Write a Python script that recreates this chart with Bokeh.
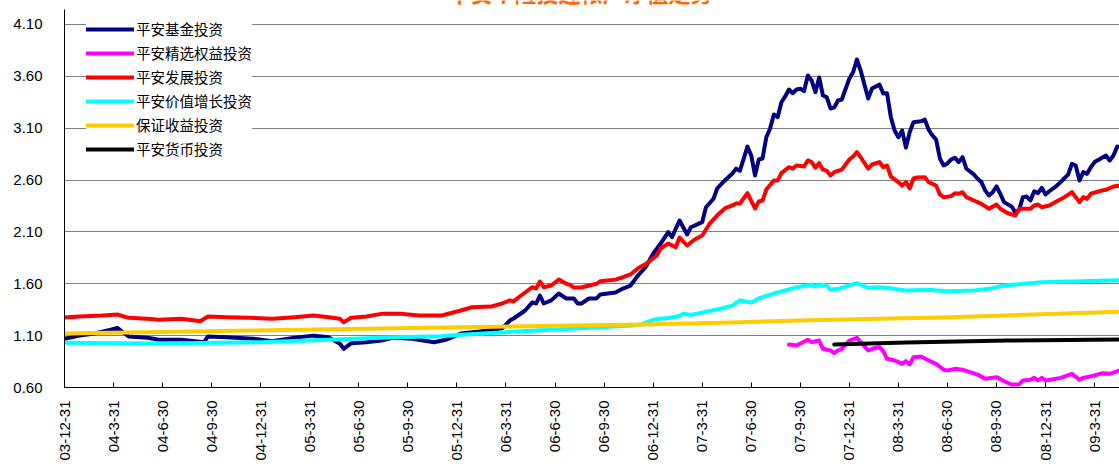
import math
from bokeh.plotting import figure
from bokeh.models import Range1d, FixedTicker, NumeralTickFormatter, Legend, LegendItem, Label
from bokeh.embed import file_html
from bokeh.resources import INLINE

TITLE = "平安个险投连帐户净值走势"

# x axis: weekly categories, a tick label every 13 weeks (quarter ends)
X_TICK_WEEKS = [0, 13, 26, 39, 52, 65, 78, 91, 104, 117, 130, 143, 156, 169, 182,
                195, 208, 221, 234, 247, 260, 273]
X_TICK_LABELS = ["03-12-31", "04-3-31", "04-6-30", "04-9-30", "04-12-31", "05-3-31",
                 "05-6-30", "05-9-30", "05-12-31", "06-3-31", "06-6-30", "06-9-30",
                 "06-12-31", "07-3-31", "07-6-30", "07-9-30", "07-12-31", "08-3-31",
                 "08-6-30", "08-9-30", "08-12-31", "09-3-31"]
Y_TICKS = [0.60, 1.10, 1.60, 2.10, 2.60, 3.10, 3.60, 4.10]

# 平安基金投资
FUND_WEEK = [0, 4, 8, 12, 14, 17, 22, 25, 31, 37, 38, 43, 50, 55, 61, 66, 70, 73, 74, 76,
             80, 84, 87, 92, 98, 101, 105, 110, 116, 118, 119, 122, 124, 125, 126, 127, 129,
             131, 133, 135, 136, 137, 139, 141, 142, 146, 148, 150, 152, 154, 156, 158, 160,
             161, 163, 165, 166, 169, 170, 172, 173, 175, 177, 178, 179, 181, 182, 183, 184,
             185, 186, 187, 188, 189, 190, 191, 192, 193, 194, 195, 196, 197, 198, 199, 200,
             201, 202, 203, 204, 205, 206, 208, 209, 210, 211, 213, 214, 216, 217, 218, 219,
             220, 221, 222, 223, 224, 225, 227, 228, 229, 230, 231, 232, 233, 234, 235, 236,
             237, 238, 239, 241, 242, 243, 244, 245, 246, 247, 248, 249, 251, 252, 253, 254,
             255, 256, 257, 258, 259, 260, 261, 263, 264, 266, 267, 268, 269, 270, 271, 272,
             273, 275, 276, 277, 278, 279, 280]
FUND_NAV = [1.07, 1.10, 1.12, 1.156, 1.175, 1.092, 1.079, 1.06, 1.06, 1.037, 1.092, 1.085,
            1.07, 1.046, 1.079, 1.10, 1.085, 1.021, 0.973, 1.027, 1.037, 1.053, 1.079, 1.07,
            1.037, 1.06, 1.12, 1.14, 1.17, 1.245, 1.265, 1.34, 1.42, 1.41, 1.487, 1.41, 1.44,
            1.506, 1.458, 1.458, 1.41, 1.41, 1.458, 1.458, 1.497, 1.516, 1.554, 1.583, 1.68,
            1.76, 1.89, 1.988, 2.097, 2.05, 2.21, 2.075, 2.145, 2.194, 2.338, 2.42, 2.52,
            2.596, 2.663, 2.71, 2.69, 2.923, 2.837, 2.644, 2.798, 2.808, 3.013, 3.097, 3.232,
            3.206, 3.35, 3.406, 3.473, 3.437, 3.473, 3.48, 3.457, 3.608, 3.56, 3.447, 3.589,
            3.415, 3.40, 3.29, 3.30, 3.367, 3.377, 3.579, 3.64, 3.762, 3.656, 3.386, 3.482,
            3.52, 3.434, 3.437, 3.206, 3.077, 3.013, 3.077, 2.914, 3.061, 3.158, 3.167, 3.183,
            3.087, 3.03, 2.99, 2.808, 2.74, 2.76, 2.80, 2.815, 2.773, 2.82, 2.709, 2.654,
            2.612, 2.58, 2.50, 2.451, 2.483, 2.538, 2.468, 2.387, 2.345, 2.29, 2.313, 2.435,
            2.441, 2.403, 2.492, 2.473, 2.525, 2.461, 2.492, 2.547, 2.58, 2.654, 2.757, 2.74,
            2.596, 2.676, 2.66, 2.724, 2.773, 2.815, 2.837, 2.789, 2.837, 2.924, 2.917]

# 平安精选权益投资
EQUITY_WEEK = [192, 194, 197, 198, 200, 201, 203, 204, 205, 206, 208, 210, 211, 213, 214, 216,
               217, 218, 220, 221, 222, 223, 224, 225, 227, 229, 231, 233, 234, 236, 238, 240,
               242, 244, 247, 249, 251, 253, 254, 256, 257, 258, 259, 260, 264, 267, 269, 270,
               273, 275, 277, 280]
EQUITY_NAV = [1.015, 1.005, 1.06, 1.037, 1.053, 0.973, 0.957, 0.931, 0.957, 0.973, 1.053,
              1.079, 1.037, 0.957, 0.973, 0.989, 0.95, 0.877, 0.86, 0.844, 0.828, 0.854, 0.822,
              0.892, 0.899, 0.86, 0.828, 0.771, 0.764, 0.78, 0.771, 0.748, 0.725, 0.684, 0.70,
              0.66, 0.629, 0.629, 0.668, 0.674, 0.693, 0.668, 0.693, 0.668, 0.693, 0.732,
              0.674, 0.693, 0.716, 0.738, 0.732, 0.77]

# 平安发展投资
GROWTH_WEEK = [0, 4, 10, 14, 17, 22, 25, 31, 36, 38, 43, 49, 55, 61, 66, 70, 73, 74, 76, 80,
               84, 89, 94, 100, 105, 108, 113, 116, 118, 119, 121, 124, 125, 126, 127, 129, 131,
               133, 134, 135, 137, 139, 141, 142, 146, 148, 150, 152, 154, 157, 158, 160, 162,
               163, 165, 167, 169, 171, 173, 175, 177, 178, 179, 181, 182, 183, 184, 185, 186,
               188, 189, 190, 192, 193, 194, 196, 197, 198, 199, 200, 201, 202, 203, 204, 206,
               208, 209, 210, 211, 213, 214, 216, 217, 218, 219, 221, 222, 223, 224, 225, 226,
               228, 229, 231, 232, 233, 235, 236, 237, 238, 239, 241, 243, 245, 247, 248, 250,
               252, 253, 256, 257, 258, 259, 261, 263, 265, 267, 269, 270, 271, 272, 275, 276,
               278, 280]
GROWTH_NAV = [1.275, 1.284, 1.294, 1.304, 1.272, 1.262, 1.253, 1.262, 1.239, 1.284, 1.278,
              1.272, 1.262, 1.278, 1.294, 1.278, 1.262, 1.23, 1.272, 1.284, 1.31, 1.31, 1.294,
              1.294, 1.342, 1.374, 1.38, 1.41, 1.44, 1.43, 1.487, 1.567, 1.554, 1.622, 1.567,
              1.583, 1.64, 1.60, 1.59, 1.564, 1.564, 1.583, 1.60, 1.625, 1.64, 1.663, 1.69, 1.75,
              1.79, 1.873, 1.94, 1.988, 1.953, 2.046, 1.969, 2.027, 2.065, 2.18, 2.26, 2.326,
              2.355, 2.374, 2.374, 2.473, 2.40, 2.326, 2.393, 2.403, 2.508, 2.596, 2.596, 2.667,
              2.724, 2.71, 2.74, 2.73, 2.789, 2.773, 2.72, 2.763, 2.70, 2.69, 2.644, 2.676, 2.70,
              2.798, 2.827, 2.869, 2.82, 2.71, 2.75, 2.773, 2.724, 2.74, 2.634, 2.58, 2.547,
              2.58, 2.518, 2.615, 2.625, 2.628, 2.58, 2.547, 2.461, 2.435, 2.445, 2.473, 2.468,
              2.483, 2.435, 2.403, 2.371, 2.323, 2.364, 2.323, 2.28, 2.258, 2.323, 2.323, 2.355,
              2.364, 2.338, 2.355, 2.396, 2.435, 2.483, 2.387, 2.435, 2.419, 2.468, 2.50, 2.506,
              2.538, 2.547]

# 平安价值增长投资
VALUE_WEEK = [0, 25, 52, 70, 87, 100, 105, 117, 135, 147, 151, 153, 155, 157, 160, 163, 164,
              166, 170, 174, 177, 179, 182, 184, 188, 191, 194, 197, 198, 199, 200, 202, 203,
              205, 208, 210, 213, 216, 220, 223, 229, 234, 241, 245, 249, 254, 259, 267, 280]
VALUE_NAV = [1.031, 1.025, 1.037, 1.06, 1.085, 1.094, 1.108, 1.133, 1.169, 1.19, 1.20, 1.21,
             1.24, 1.26, 1.27, 1.29, 1.31, 1.30, 1.33, 1.36, 1.39, 1.44, 1.42, 1.458, 1.506,
             1.535, 1.567, 1.583, 1.593, 1.574, 1.593, 1.583, 1.542, 1.551, 1.583, 1.606,
             1.561, 1.567, 1.551, 1.535, 1.542, 1.528, 1.535, 1.551, 1.583, 1.599, 1.615,
             1.622, 1.635]

# 保证收益投资
GUARANTEED_WEEK = [0, 50, 105, 153, 179, 200, 235, 280]
GUARANTEED_NAV = [1.12, 1.15, 1.18, 1.207, 1.23, 1.25, 1.278, 1.33]

# 平安货币投资
MONEY_WEEK = [204, 223, 250, 280]
MONEY_NAV = [1.015, 1.035, 1.052, 1.063]

SERIES = [
    ("平安基金投资", FUND_WEEK, FUND_NAV, "#000080"),
    ("平安精选权益投资", EQUITY_WEEK, EQUITY_NAV, "#FF00FF"),
    ("平安发展投资", GROWTH_WEEK, GROWTH_NAV, "#FF0000"),
    ("平安价值增长投资", VALUE_WEEK, VALUE_NAV, "#00FFFF"),
    ("保证收益投资", GUARANTEED_WEEK, GUARANTEED_NAV, "#FFCC00"),
    ("平安货币投资", MONEY_WEEK, MONEY_NAV, "#000000"),
]

p = figure(width=1119, height=466, output_backend="svg", toolbar_location=None,
           x_range=Range1d(0, 279.6), y_range=Range1d(0.60, 4.331),
           min_border_left=64, min_border_right=0, min_border_top=0, min_border_bottom=79)
p.outline_line_color = None
p.background_fill_color = "white"
p.border_fill_color = "white"

p.xgrid.visible = False
p.ygrid.ticker = FixedTicker(ticks=Y_TICKS)
p.ygrid.grid_line_color = "#808080"
p.ygrid.grid_line_width = 1

xa = p.xaxis[0]
xa.ticker = FixedTicker(ticks=X_TICK_WEEKS)
xa.major_label_overrides = {w: lab for w, lab in zip(X_TICK_WEEKS, X_TICK_LABELS)}
xa.major_label_orientation = math.pi / 2
xa.major_label_text_font = "Liberation Sans"
xa.major_label_text_font_size = "15px"
xa.major_label_text_color = "#000000"
xa.major_label_standoff = 13
xa.major_tick_in = 5
xa.major_tick_out = 0
xa.minor_tick_line_color = None
xa.axis_line_color = "#000000"
xa.major_tick_line_color = "#000000"

ya = p.yaxis[0]
ya.ticker = FixedTicker(ticks=Y_TICKS)
ya.bounds = (0.60, 4.245)
ya.formatter = NumeralTickFormatter(format="0.00")
ya.major_label_text_font = "Liberation Sans"
ya.major_label_text_font_size = "15px"
ya.major_label_text_color = "#000000"
ya.major_label_standoff = 22
ya.major_tick_in = 0
ya.major_tick_out = 0
ya.minor_tick_line_color = None
ya.axis_line_color = "#000000"

items = []
for name, xs, ys, color in SERIES:
    r = p.line(xs, ys, line_color=color, line_width=4, line_join="round", line_cap="round")
    items.append(LegendItem(label=name, renderers=[r]))

legend = Legend(items=items, location=(22, 228), margin=0, padding=6, spacing=3,
                glyph_width=48, glyph_height=20, label_height=20, label_standoff=2,
                label_text_font="Noto Sans CJK SC", label_text_font_size="14.5px",
                label_text_color="#000000", border_line_color=None,
                background_fill_color="white", background_fill_alpha=1.0)
p.add_layout(legend)

title = Label(x=516, y=380, x_units="screen", y_units="screen", text=TITLE,
              text_align="center", text_baseline="bottom",
              text_font="Noto Sans CJK SC", text_font_size="22px", text_font_style="bold",
              text_color="#FF6600")
p.add_layout(title)

open("out.html", "w").write(file_html(p, INLINE))
